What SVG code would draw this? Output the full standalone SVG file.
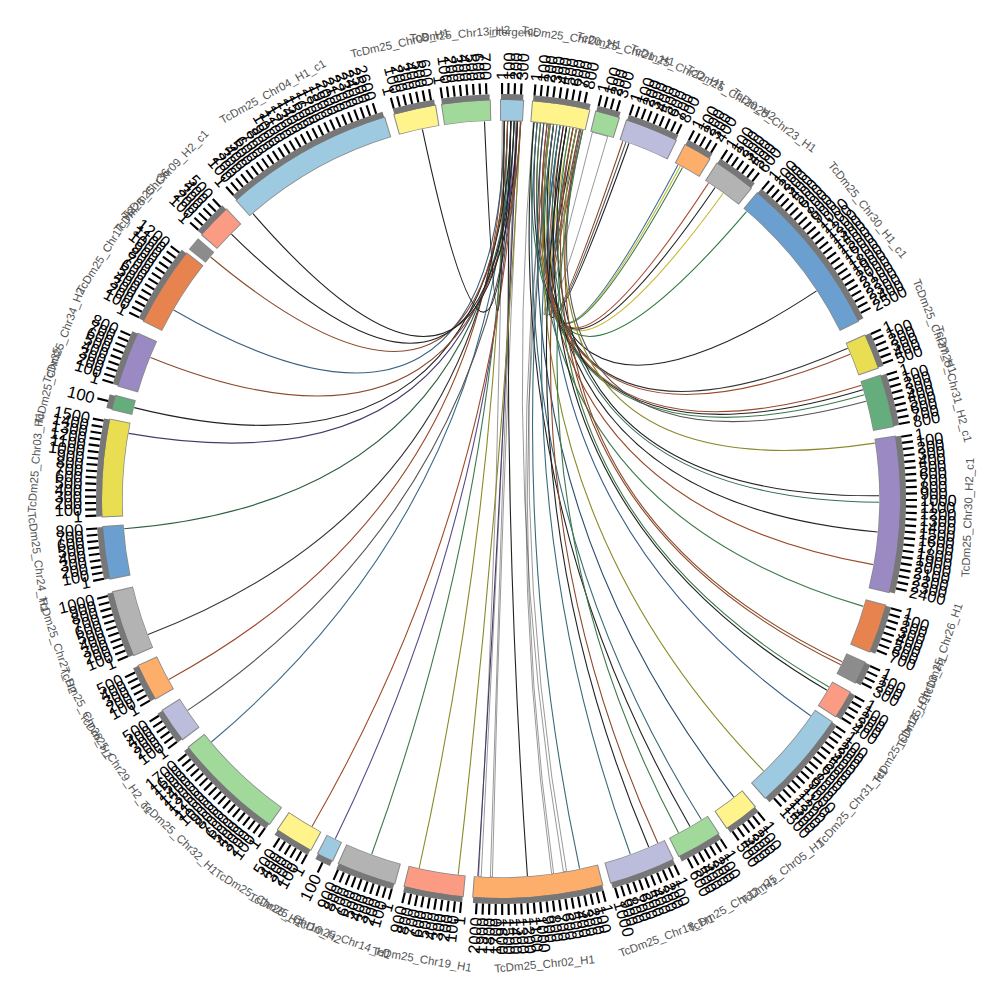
<svg xmlns="http://www.w3.org/2000/svg" width="1000" height="1000" viewBox="0 0 1000 1000">
<style>
.bo{fill:none;stroke:#8a8a8a;stroke-width:21.5}
.bk{fill:none;stroke-width:20}
.gb{fill:none;stroke:#777;stroke-width:6}
.tk{fill:none;stroke:#000;stroke-width:11}
.tl text{font-family:"Liberation Sans",Arial,sans-serif;font-size:16.5px;dominant-baseline:central;fill:#000}
.L text{text-anchor:end}
.nm{font-family:"Liberation Sans",Arial,sans-serif;font-size:11.5px;fill:#555;text-anchor:middle;dominant-baseline:central}
#links path{fill:none;stroke-width:1.1}
#links path.rb{stroke:#333;stroke-width:.5}
</style>
<rect width="1000" height="1000" fill="#fff"/>
<g transform="translate(501,499)">
<g id="links">
<path class="rb" fill="#d6df7e" d="M1.3,-378Q0,0 -22.4,377.3A378,378 0 0 0 -19.8,377.5Q0,0 15.2,-377.7A378,378 0 0 0 1.3,-378Z"/>
<path class="rb" fill="#a1d99b" d="M15.2,-377.7Q0,0 -10.6,377.9A378,378 0 0 0 -8.6,377.9Q0,0 19.1,-377.5A378,378 0 0 0 15.2,-377.7Z"/>
<path class="rb" fill="#9ecae1" d="M32.3,-376.6Q0,0 62.4,372.8A378,378 0 0 0 65.6,372.3Q0,0 48,-374.9A378,378 0 0 0 32.3,-376.6Z"/>
<path class="rb" fill="#a1d99b" d="M48,-374.9Q0,0 50.6,374.6A378,378 0 0 0 52.6,374.3Q0,0 52.6,-374.3A378,378 0 0 0 48,-374.9Z"/>
<path class="rb" fill="#fff48c" d="M76,-370.3Q0,0 106.7,-362.6A378,378 0 0 0 91.4,-366.8Q0,0 81.2,-369.2A378,378 0 0 0 76,-370.3Z"/>
<path stroke="#8b4a2b" d="M81.8,-369Q0,0 121.8,-357.8"/>
<path stroke="#555" d="M78.6,-369.7Q0,0 124.9,-356.8"/>
<path stroke="#222" d="M75.4,-370.4Q0,0 128,-355.7"/>
<path stroke="#3a6f9a" d="M72.1,-371.1Q0,0 176.9,-334.1"/>
<path stroke="#c8b830" d="M68.9,-371.7Q0,0 179.2,-332.8"/>
<path stroke="#3d7a4a" d="M65.6,-372.3Q0,0 181.5,-331.5"/>
<path stroke="#b0503a" d="M62.4,-372.8Q0,0 207.5,-315.9"/>
<path stroke="#222" d="M59.1,-373.3Q0,0 214.1,-311.5"/>
<path stroke="#c8b830" d="M55.9,-373.8Q0,0 222.2,-305.8"/>
<path stroke="#2e7a3e" d="M52.6,-374.3Q0,0 245.5,-287.4"/>
<path stroke="#222" d="M49.3,-374.8Q0,0 315.6,-208.1"/>
<path stroke="#333" d="M46.1,-375.2Q0,0 346.7,-150.7"/>
<path stroke="#9a4a2a" d="M42.8,-375.6Q0,0 349.2,-144.7"/>
<path stroke="#9a4a2a" d="M39.5,-375.9Q0,0 360.5,-113.7"/>
<path stroke="#222" d="M36.2,-376.3Q0,0 361.9,-109.2"/>
<path stroke="#3d7a4a" d="M33,-376.6Q0,0 363.4,-104.2"/>
<path stroke="#555" d="M79.9,-369.5Q0,0 365.1,-97.8"/>
<path stroke="#8a8a2a" d="M75.4,-370.4Q0,0 373.8,-55.9"/>
<path stroke="#222" d="M65.6,-372.3Q0,0 378,-3.3"/>
<path stroke="#3a6a5a" d="M59.1,-373.3Q0,0 378,3.3"/>
<path stroke="#222" d="M52.6,-374.3Q0,0 376.6,33"/>
<path stroke="#9a4a2a" d="M46.1,-375.2Q0,0 372.3,65.6"/>
<path stroke="#3d7a4a" d="M39.5,-375.9Q0,0 362.4,107.4"/>
<path stroke="#8b4a2b" d="M78.6,-369.7Q0,0 341.2,162.7"/>
<path stroke="#8b4a2b" d="M72.1,-371.1Q0,0 339.8,165.7"/>
<path stroke="#3d7a4a" d="M68.9,-371.7Q0,0 328,187.9"/>
<path stroke="#222" d="M62.4,-372.8Q0,0 326,191.3"/>
<path stroke="#3a5f8a" d="M55.9,-373.8Q0,0 309.6,216.8"/>
<path stroke="#8a8a2a" d="M49.3,-374.8Q0,0 262.6,271.9"/>
<path stroke="#2a4a6a" d="M42.8,-375.6Q0,0 232.7,297.9"/>
<path stroke="#3a6a7a" d="M36.2,-376.3Q0,0 200.3,320.5"/>
<path stroke="#222" d="M33,-376.6Q0,0 189,327.4"/>
<path stroke="#3d7a4a" d="M81.8,-369Q0,0 177.5,333.7"/>
<path stroke="#8b4a2b" d="M72.1,-371.1Q0,0 156.8,344"/>
<path stroke="#222" d="M65.6,-372.3Q0,0 147.7,348"/>
<path stroke="#3a6a7a" d="M59.1,-373.3Q0,0 129.3,355.2"/>
<path stroke="#3a6a7a" d="M52.6,-374.3Q0,0 78.6,369.7"/>
<path stroke="#222" d="M9.9,-377.9Q0,0 26.4,377.1"/>
<path stroke="#4a3a6a" d="M16.5,-377.6Q0,0 -23.1,377.3"/>
<path stroke="#8a8a2a" d="M19.8,-377.5Q0,0 -42.8,375.6"/>
<path stroke="#8a8a2a" d="M3.3,-378Q0,0 -81.8,369"/>
<path stroke="#3d7a4a" d="M6.6,-377.9Q0,0 -129.3,355.2"/>
<path stroke="#5a4a8a" d="M13.2,-377.8Q0,0 -165.7,339.8"/>
<path stroke="#a04a2a" d="M16.5,-377.6Q0,0 -189,327.4"/>
<path stroke="#3a6a8a" d="M9.9,-377.9Q0,0 -289.6,243"/>
<path stroke="#555" d="M19.8,-377.5Q0,0 -313.4,211.4"/>
<path stroke="#9a4a2a" d="M3.3,-378Q0,0 -332.2,180.4"/>
<path stroke="#333" d="M6.6,-377.9Q0,0 -352.9,135.5"/>
<path stroke="#2f5f3f" d="M13.2,-377.8Q0,0 -376.8,29.7"/>
<path stroke="#4a3a6a" d="M16.5,-377.6Q0,0 -372.3,-65.6"/>
<path stroke="#222" d="M9.9,-377.9Q0,0 -366.8,-91.4"/>
<path stroke="#8b4a2b" d="M19.8,-377.5Q0,0 -350.5,-141.6"/>
<path stroke="#3a5f7f" d="M3.3,-378Q0,0 -327.4,-189"/>
<path stroke="#8b4a2b" d="M6.6,-377.9Q0,0 -290.4,-242"/>
<path stroke="#222" d="M13.2,-377.8Q0,0 -269.6,-264.9"/>
<path stroke="#222" d="M16.5,-377.6Q0,0 -248,-285.3"/>
<path stroke="#222" d="M9.9,-377.9Q0,0 -78.6,-369.7"/>
<path stroke="#222" d="M3.3,-378Q0,0 -16.5,-377.6"/>
</g>

<g id="b1"><circle class="bo" pathLength="360" r="389" stroke-dasharray="3.5 400" transform="rotate(-90.15)"/><circle class="bk" pathLength="360" r="389" stroke="#9ecae1" stroke-dasharray="3.2 400" transform="rotate(-90)"/><circle class="gb" pathLength="360" r="402" stroke-dasharray="3.2 400" transform="rotate(-90)"/><circle class="tk" pathLength="360" r="410.5" stroke-dasharray=".3 .6 .3 .6 .3 .6 .3 400" transform="rotate(-90)"/>
<g class="tl" transform="rotate(-90)"><text x="419" transform="rotate(.15)">1</text><text x="419" transform="rotate(1.05)">100</text><text x="419" transform="rotate(1.95)">200</text><text x="419" transform="rotate(2.85)">300</text></g>
<text class="nm" transform="rotate(1.6)" y="-467">intergenic</text></g>

<g id="b2"><circle class="bo" pathLength="360" r="389" stroke-dasharray="8.5 400" transform="rotate(-85.55)"/><circle class="bk" pathLength="360" r="389" stroke="#fff48c" stroke-dasharray="8.2 400" transform="rotate(-85.4)"/><circle class="gb" pathLength="360" r="402" stroke-dasharray="8.2 400" transform="rotate(-85.4)"/><circle class="tk" pathLength="360" r="410.5" stroke-dasharray=".3 .6 .3 .6 .3 .6 .3 .6 .3 .6 .3 .6 .3 .6 .3 .6 .3 400" transform="rotate(-85.4)"/>
<g class="tl" transform="rotate(-85.4)"><text x="419" transform="rotate(.15)">1</text><text x="419" transform="rotate(1.05)">100</text><text x="419" transform="rotate(1.95)">200</text><text x="419" transform="rotate(2.85)">300</text><text x="419" transform="rotate(3.75)">400</text><text x="419" transform="rotate(4.65)">500</text><text x="419" transform="rotate(5.55)">600</text><text x="419" transform="rotate(6.45)">700</text><text x="419" transform="rotate(7.35)">800</text></g>
<text class="nm" transform="rotate(8.7)" y="-467">TcDm25_Chr20_H1</text></g>

<g id="b3"><circle class="bo" pathLength="360" r="389" stroke-dasharray="3.7 400" transform="rotate(-76.35)"/><circle class="bk" pathLength="360" r="389" stroke="#a1d99b" stroke-dasharray="3.4 400" transform="rotate(-76.2)"/><circle class="gb" pathLength="360" r="402" stroke-dasharray="3.4 400" transform="rotate(-76.2)"/><circle class="tk" pathLength="360" r="410.5" stroke-dasharray=".3 .6 .3 .6 .3 .6 .3 400" transform="rotate(-76.2)"/>
<g class="tl" transform="rotate(-76.2)"><text x="419" transform="rotate(.15)">1</text><text x="419" transform="rotate(1.05)">100</text><text x="419" transform="rotate(1.95)">200</text><text x="419" transform="rotate(2.85)">300</text></g>
<text class="nm" transform="rotate(15.5)" y="-467">TcDm25_Chr21_H1</text></g>

<g id="b4"><circle class="bo" pathLength="360" r="389" stroke-dasharray="7.9 400" transform="rotate(-71.75)"/><circle class="bk" pathLength="360" r="389" stroke="#bcbddc" stroke-dasharray="7.6 400" transform="rotate(-71.6)"/><circle class="gb" pathLength="360" r="402" stroke-dasharray="7.6 400" transform="rotate(-71.6)"/><circle class="tk" pathLength="360" r="410.5" stroke-dasharray=".3 .6 .3 .6 .3 .6 .3 .6 .3 .6 .3 .6 .3 .6 .3 .6 .3 400" transform="rotate(-71.6)"/>
<g class="tl" transform="rotate(-71.6)"><text x="419" transform="rotate(.15)">1</text><text x="419" transform="rotate(1.05)">100</text><text x="419" transform="rotate(1.95)">200</text><text x="419" transform="rotate(2.85)">300</text><text x="419" transform="rotate(3.75)">400</text><text x="419" transform="rotate(4.65)">500</text><text x="419" transform="rotate(5.55)">600</text><text x="419" transform="rotate(6.45)">700</text><text x="419" transform="rotate(7.35)">800</text></g>
<text class="nm" transform="rotate(22.2)" y="-467">TcDm25_Chr22_H1</text></g>

<g id="b5"><circle class="bo" pathLength="360" r="389" stroke-dasharray="4.3 400" transform="rotate(-62.65)"/><circle class="bk" pathLength="360" r="389" stroke="#fdae6b" stroke-dasharray="4 400" transform="rotate(-62.5)"/><circle class="gb" pathLength="360" r="402" stroke-dasharray="4 400" transform="rotate(-62.5)"/><circle class="tk" pathLength="360" r="410.5" stroke-dasharray=".3 .6 .3 .6 .3 .6 .3 .6 .3 400" transform="rotate(-62.5)"/>
<g class="tl" transform="rotate(-62.5)"><text x="419" transform="rotate(.15)">1</text><text x="419" transform="rotate(1.05)">100</text><text x="419" transform="rotate(1.95)">200</text><text x="419" transform="rotate(2.85)">300</text><text x="419" transform="rotate(3.75)">400</text></g>
<text class="nm" transform="rotate(29.5)" y="-467">TcDm25_Chr20_H2</text></g>

<g id="b6"><circle class="bo" pathLength="360" r="389" stroke-dasharray="6.3 400" transform="rotate(-57.35)"/><circle class="bk" pathLength="360" r="389" stroke="#b3b3b3" stroke-dasharray="6 400" transform="rotate(-57.2)"/><circle class="gb" pathLength="360" r="402" stroke-dasharray="6 400" transform="rotate(-57.2)"/><circle class="tk" pathLength="360" r="410.5" stroke-dasharray=".3 .6 .3 .6 .3 .6 .3 .6 .3 .6 .3 .6 .3 400" transform="rotate(-57.2)"/>
<g class="tl" transform="rotate(-57.2)"><text x="419" transform="rotate(.15)">1</text><text x="419" transform="rotate(1.05)">100</text><text x="419" transform="rotate(1.95)">200</text><text x="419" transform="rotate(2.85)">300</text><text x="419" transform="rotate(3.75)">400</text><text x="419" transform="rotate(4.65)">500</text><text x="419" transform="rotate(5.55)">600</text></g>
<text class="nm" transform="rotate(35.8)" y="-467">TcDm25_Chr23_H1</text></g>

<g id="b7"><circle class="bo" pathLength="360" r="389" stroke-dasharray="23.8 400" transform="rotate(-50.15)"/><circle class="bk" pathLength="360" r="389" stroke="#6a9fcf" stroke-dasharray="23.5 400" transform="rotate(-50)"/><circle class="gb" pathLength="360" r="402" stroke-dasharray="23.5 400" transform="rotate(-50)"/><circle class="tk" pathLength="360" r="410.5" stroke-dasharray=".3 .6 .3 .6 .3 .6 .3 .6 .3 .6 .3 .6 .3 .6 .3 .6 .3 .6 .3 .6 .3 .6 .3 .6 .3 .6 .3 .6 .3 .6 .3 .6 .3 .6 .3 .6 .3 .6 .3 .6 .3 .6 .3 .6 .3 .6 .3 .6 .3 .6 .3 400" transform="rotate(-50)"/>
<g class="tl" transform="rotate(-50)"><text x="419" transform="rotate(.15)">1</text><text x="419" transform="rotate(1.05)">100</text><text x="419" transform="rotate(1.95)">200</text><text x="419" transform="rotate(2.85)">300</text><text x="419" transform="rotate(3.75)">400</text><text x="419" transform="rotate(4.65)">500</text><text x="419" transform="rotate(5.55)">600</text><text x="419" transform="rotate(6.45)">700</text><text x="419" transform="rotate(7.35)">800</text><text x="419" transform="rotate(8.25)">900</text><text x="419" transform="rotate(9.15)">1000</text><text x="419" transform="rotate(10.05)">1100</text><text x="419" transform="rotate(10.95)">1200</text><text x="419" transform="rotate(11.85)">1300</text><text x="419" transform="rotate(12.75)">1400</text><text x="419" transform="rotate(13.65)">1500</text><text x="419" transform="rotate(14.55)">1600</text><text x="419" transform="rotate(15.45)">1700</text><text x="419" transform="rotate(16.35)">1800</text><text x="419" transform="rotate(17.25)">1900</text><text x="419" transform="rotate(18.15)">2000</text><text x="419" transform="rotate(19.05)">2100</text><text x="419" transform="rotate(19.95)">2200</text><text x="419" transform="rotate(20.85)">2300</text><text x="419" transform="rotate(21.75)">2400</text><text x="419" transform="rotate(22.65)">2500</text></g>
<text class="nm" transform="rotate(51.75)" y="-467">TcDm25_Chr30_H1_c1</text></g>

<g id="b8"><circle class="bo" pathLength="360" r="389" stroke-dasharray="5.3 400" transform="rotate(-24.35)"/><circle class="bk" pathLength="360" r="389" stroke="#e9dd52" stroke-dasharray="5 400" transform="rotate(-24.2)"/><circle class="gb" pathLength="360" r="402" stroke-dasharray="5 400" transform="rotate(-24.2)"/><circle class="tk" pathLength="360" r="410.5" stroke-dasharray=".3 .6 .3 .6 .3 .6 .3 .6 .3 .6 .3 400" transform="rotate(-24.2)"/>
<g class="tl" transform="rotate(-24.2)"><text x="419" transform="rotate(.15)">1</text><text x="419" transform="rotate(1.05)">100</text><text x="419" transform="rotate(1.95)">200</text><text x="419" transform="rotate(2.85)">300</text><text x="419" transform="rotate(3.75)">400</text><text x="419" transform="rotate(4.65)">500</text></g>
<text class="nm" transform="rotate(68.3)" y="-467">TcDm25_Chr27_H1</text></g>

<g id="b9"><circle class="bo" pathLength="360" r="389" stroke-dasharray="7.8 400" transform="rotate(-18.15)"/><circle class="bk" pathLength="360" r="389" stroke="#66ad7e" stroke-dasharray="7.5 400" transform="rotate(-18)"/><circle class="gb" pathLength="360" r="402" stroke-dasharray="7.5 400" transform="rotate(-18)"/><circle class="tk" pathLength="360" r="410.5" stroke-dasharray=".3 .6 .3 .6 .3 .6 .3 .6 .3 .6 .3 .6 .3 .6 .3 .6 .3 400" transform="rotate(-18)"/>
<g class="tl" transform="rotate(-18)"><text x="419" transform="rotate(.15)">1</text><text x="419" transform="rotate(1.05)">100</text><text x="419" transform="rotate(1.95)">200</text><text x="419" transform="rotate(2.85)">300</text><text x="419" transform="rotate(3.75)">400</text><text x="419" transform="rotate(4.65)">500</text><text x="419" transform="rotate(5.55)">600</text><text x="419" transform="rotate(6.45)">700</text><text x="419" transform="rotate(7.35)">800</text></g>
<text class="nm" transform="rotate(75.75)" y="-467">TcDm25_Chr31_H2_c1</text></g>

<g id="b10"><circle class="bo" pathLength="360" r="389" stroke-dasharray="22.8 400" transform="rotate(-9.15)"/><circle class="bk" pathLength="360" r="389" stroke="#9a89c2" stroke-dasharray="22.5 400" transform="rotate(-9)"/><circle class="gb" pathLength="360" r="402" stroke-dasharray="22.5 400" transform="rotate(-9)"/><circle class="tk" pathLength="360" r="410.5" stroke-dasharray=".3 .6 .3 .6 .3 .6 .3 .6 .3 .6 .3 .6 .3 .6 .3 .6 .3 .6 .3 .6 .3 .6 .3 .6 .3 .6 .3 .6 .3 .6 .3 .6 .3 .6 .3 .6 .3 .6 .3 .6 .3 .6 .3 .6 .3 .6 .3 .6 .3 400" transform="rotate(-9)"/>
<g class="tl" transform="rotate(-9)"><text x="419" transform="rotate(.15)">1</text><text x="419" transform="rotate(1.05)">100</text><text x="419" transform="rotate(1.95)">200</text><text x="419" transform="rotate(2.85)">300</text><text x="419" transform="rotate(3.75)">400</text><text x="419" transform="rotate(4.65)">500</text><text x="419" transform="rotate(5.55)">600</text><text x="419" transform="rotate(6.45)">700</text><text x="419" transform="rotate(7.35)">800</text><text x="419" transform="rotate(8.25)">900</text><text x="419" transform="rotate(9.15)">1000</text><text x="419" transform="rotate(10.05)">1100</text><text x="419" transform="rotate(10.95)">1200</text><text x="419" transform="rotate(11.85)">1300</text><text x="419" transform="rotate(12.75)">1400</text><text x="419" transform="rotate(13.65)">1500</text><text x="419" transform="rotate(14.55)">1600</text><text x="419" transform="rotate(15.45)">1700</text><text x="419" transform="rotate(16.35)">1800</text><text x="419" transform="rotate(17.25)">1900</text><text x="419" transform="rotate(18.15)">2000</text><text x="419" transform="rotate(19.05)">2100</text><text x="419" transform="rotate(19.95)">2200</text><text x="419" transform="rotate(20.85)">2300</text><text x="419" transform="rotate(21.75)">2400</text></g>
<text class="nm" transform="rotate(272.25)" y="467">TcDm25_Chr30_H2_c1</text></g>

<g id="b11"><circle class="bo" pathLength="360" r="389" stroke-dasharray="7.3 400" transform="rotate(15.35)"/><circle class="bk" pathLength="360" r="389" stroke="#e6834f" stroke-dasharray="7 400" transform="rotate(15.5)"/><circle class="gb" pathLength="360" r="402" stroke-dasharray="7 400" transform="rotate(15.5)"/><circle class="tk" pathLength="360" r="410.5" stroke-dasharray=".3 .6 .3 .6 .3 .6 .3 .6 .3 .6 .3 .6 .3 .6 .3 400" transform="rotate(15.5)"/>
<g class="tl" transform="rotate(15.5)"><text x="419" transform="rotate(.15)">1</text><text x="419" transform="rotate(1.05)">100</text><text x="419" transform="rotate(1.95)">200</text><text x="419" transform="rotate(2.85)">300</text><text x="419" transform="rotate(3.75)">400</text><text x="419" transform="rotate(4.65)">500</text><text x="419" transform="rotate(5.55)">600</text><text x="419" transform="rotate(6.45)">700</text></g>
<text class="nm" transform="rotate(289)" y="467">TcDm25_Chr26_H1</text></g>

<g id="b12"><circle class="bo" pathLength="360" r="389" stroke-dasharray="3.5 400" transform="rotate(24.05)"/><circle class="bk" pathLength="360" r="389" stroke="#8c8c8c" stroke-dasharray="3.2 400" transform="rotate(24.2)"/><circle class="gb" pathLength="360" r="402" stroke-dasharray="3.2 400" transform="rotate(24.2)"/><circle class="tk" pathLength="360" r="410.5" stroke-dasharray=".3 .6 .3 .6 .3 .6 .3 400" transform="rotate(24.2)"/>
<g class="tl" transform="rotate(24.2)"><text x="419" transform="rotate(.15)">1</text><text x="419" transform="rotate(1.05)">100</text><text x="419" transform="rotate(1.95)">200</text><text x="419" transform="rotate(2.85)">300</text></g>
<text class="nm" transform="rotate(295.8)" y="467">TcDm25_Chr13_H1</text></g>

<g id="b13"><circle class="bo" pathLength="360" r="389" stroke-dasharray="4.3 400" transform="rotate(28.85)"/><circle class="bk" pathLength="360" r="389" stroke="#fc9b83" stroke-dasharray="4 400" transform="rotate(29)"/><circle class="gb" pathLength="360" r="402" stroke-dasharray="4 400" transform="rotate(29)"/><circle class="tk" pathLength="360" r="410.5" stroke-dasharray=".3 .6 .3 .6 .3 .6 .3 .6 .3 400" transform="rotate(29)"/>
<g class="tl" transform="rotate(29)"><text x="419" transform="rotate(.15)">1</text><text x="419" transform="rotate(1.05)">100</text><text x="419" transform="rotate(1.95)">200</text><text x="419" transform="rotate(2.85)">300</text><text x="419" transform="rotate(3.75)">400</text></g>
<text class="nm" transform="rotate(301)" y="467">TcDm25_Chr16_H1</text></g>

<g id="b14"><circle class="bo" pathLength="360" r="389" stroke-dasharray="14.8 400" transform="rotate(33.85)"/><circle class="bk" pathLength="360" r="389" stroke="#9ecae1" stroke-dasharray="14.5 400" transform="rotate(34)"/><circle class="gb" pathLength="360" r="402" stroke-dasharray="14.5 400" transform="rotate(34)"/><circle class="tk" pathLength="360" r="410.5" stroke-dasharray=".3 .6 .3 .6 .3 .6 .3 .6 .3 .6 .3 .6 .3 .6 .3 .6 .3 .6 .3 .6 .3 .6 .3 .6 .3 .6 .3 .6 .3 .6 .3 400" transform="rotate(34)"/>
<g class="tl" transform="rotate(34)"><text x="419" transform="rotate(.15)">1</text><text x="419" transform="rotate(1.05)">100</text><text x="419" transform="rotate(1.95)">200</text><text x="419" transform="rotate(2.85)">300</text><text x="419" transform="rotate(3.75)">400</text><text x="419" transform="rotate(4.65)">500</text><text x="419" transform="rotate(5.55)">600</text><text x="419" transform="rotate(6.45)">700</text><text x="419" transform="rotate(7.35)">800</text><text x="419" transform="rotate(8.25)">900</text><text x="419" transform="rotate(9.15)">1000</text><text x="419" transform="rotate(10.05)">1100</text><text x="419" transform="rotate(10.95)">1200</text><text x="419" transform="rotate(11.85)">1300</text><text x="419" transform="rotate(12.75)">1400</text><text x="419" transform="rotate(13.65)">1500</text></g>
<text class="nm" transform="rotate(311.25)" y="467">TcDm25_Chr31_H1</text></g>

<g id="b15"><circle class="bo" pathLength="360" r="389" stroke-dasharray="5.3 400" transform="rotate(50.35)"/><circle class="bk" pathLength="360" r="389" stroke="#fff48c" stroke-dasharray="5 400" transform="rotate(50.5)"/><circle class="gb" pathLength="360" r="402" stroke-dasharray="5 400" transform="rotate(50.5)"/><circle class="tk" pathLength="360" r="410.5" stroke-dasharray=".3 .6 .3 .6 .3 .6 .3 .6 .3 .6 .3 400" transform="rotate(50.5)"/>
<g class="tl" transform="rotate(50.5)"><text x="419" transform="rotate(.15)">1</text><text x="419" transform="rotate(1.05)">100</text><text x="419" transform="rotate(1.95)">200</text><text x="419" transform="rotate(2.85)">300</text><text x="419" transform="rotate(3.75)">400</text><text x="419" transform="rotate(4.65)">500</text></g>
<text class="nm" transform="rotate(323)" y="467">TcDm25_Chr05_H1</text></g>

<g id="b16"><circle class="bo" pathLength="360" r="389" stroke-dasharray="6.8 400" transform="rotate(56.85)"/><circle class="bk" pathLength="360" r="389" stroke="#a1d99b" stroke-dasharray="6.5 400" transform="rotate(57)"/><circle class="gb" pathLength="360" r="402" stroke-dasharray="6.5 400" transform="rotate(57)"/><circle class="tk" pathLength="360" r="410.5" stroke-dasharray=".3 .6 .3 .6 .3 .6 .3 .6 .3 .6 .3 .6 .3 400" transform="rotate(57)"/>
<g class="tl" transform="rotate(57)"><text x="419" transform="rotate(.15)">1</text><text x="419" transform="rotate(1.05)">100</text><text x="419" transform="rotate(1.95)">200</text><text x="419" transform="rotate(2.85)">300</text><text x="419" transform="rotate(3.75)">400</text><text x="419" transform="rotate(4.65)">500</text><text x="419" transform="rotate(5.55)">600</text></g>
<text class="nm" transform="rotate(330.25)" y="467">TcDm25_Chr12_H1</text></g>

<g id="b17"><circle class="bo" pathLength="360" r="389" stroke-dasharray="9.8 400" transform="rotate(64.35)"/><circle class="bk" pathLength="360" r="389" stroke="#bcbddc" stroke-dasharray="9.5 400" transform="rotate(64.5)"/><circle class="gb" pathLength="360" r="402" stroke-dasharray="9.5 400" transform="rotate(64.5)"/><circle class="tk" pathLength="360" r="410.5" stroke-dasharray=".3 .6 .3 .6 .3 .6 .3 .6 .3 .6 .3 .6 .3 .6 .3 .6 .3 .6 .3 .6 .3 400" transform="rotate(64.5)"/>
<g class="tl" transform="rotate(64.5)"><text x="419" transform="rotate(.15)">1</text><text x="419" transform="rotate(1.05)">100</text><text x="419" transform="rotate(1.95)">200</text><text x="419" transform="rotate(2.85)">300</text><text x="419" transform="rotate(3.75)">400</text><text x="419" transform="rotate(4.65)">500</text><text x="419" transform="rotate(5.55)">600</text><text x="419" transform="rotate(6.45)">700</text><text x="419" transform="rotate(7.35)">800</text><text x="419" transform="rotate(8.25)">900</text><text x="419" transform="rotate(9.15)">1000</text></g>
<text class="nm" transform="rotate(339.25)" y="467">TcDm25_Chr18_H1</text></g>

<g id="b18"><circle class="bo" pathLength="360" r="389" stroke-dasharray="19 400" transform="rotate(75.15)"/><circle class="bk" pathLength="360" r="389" stroke="#fdae6b" stroke-dasharray="18.7 400" transform="rotate(75.3)"/><circle class="gb" pathLength="360" r="402" stroke-dasharray="18.7 400" transform="rotate(75.3)"/><circle class="tk" pathLength="360" r="410.5" stroke-dasharray=".3 .6 .3 .6 .3 .6 .3 .6 .3 .6 .3 .6 .3 .6 .3 .6 .3 .6 .3 .6 .3 .6 .3 .6 .3 .6 .3 .6 .3 .6 .3 .6 .3 .6 .3 .6 .3 .6 .3 .6 .3 400" transform="rotate(75.3)"/>
<g class="tl" transform="rotate(75.3)"><text x="419" transform="rotate(.15)">1</text><text x="419" transform="rotate(1.05)">100</text><text x="419" transform="rotate(1.95)">200</text><text x="419" transform="rotate(2.85)">300</text><text x="419" transform="rotate(3.75)">400</text><text x="419" transform="rotate(4.65)">500</text><text x="419" transform="rotate(5.55)">600</text><text x="419" transform="rotate(6.45)">700</text><text x="419" transform="rotate(7.35)">800</text><text x="419" transform="rotate(8.25)">900</text><text x="419" transform="rotate(9.15)">1000</text><text x="419" transform="rotate(10.05)">1100</text><text x="419" transform="rotate(10.95)">1200</text><text x="419" transform="rotate(11.85)">1300</text><text x="419" transform="rotate(12.75)">1400</text><text x="419" transform="rotate(13.65)">1500</text><text x="419" transform="rotate(14.55)">1600</text></g>
<g class="tl L" transform="rotate(255.3)"><text x="-419" transform="rotate(15.45)">1700</text><text x="-419" transform="rotate(16.35)">1800</text><text x="-419" transform="rotate(17.25)">1900</text><text x="-419" transform="rotate(18.15)">2000</text></g>
<text class="nm" transform="rotate(354.65)" y="467">TcDm25_Chr02_H1</text></g>

<g id="b19"><circle class="bo" pathLength="360" r="389" stroke-dasharray="8.8 400" transform="rotate(95.35)"/><circle class="bk" pathLength="360" r="389" stroke="#fc9b83" stroke-dasharray="8.5 400" transform="rotate(95.5)"/><circle class="gb" pathLength="360" r="402" stroke-dasharray="8.5 400" transform="rotate(95.5)"/><circle class="tk" pathLength="360" r="410.5" stroke-dasharray=".3 .6 .3 .6 .3 .6 .3 .6 .3 .6 .3 .6 .3 .6 .3 .6 .3 .6 .3 400" transform="rotate(95.5)"/>
<g class="tl L" transform="rotate(275.5)"><text x="-419" transform="rotate(.15)">1</text><text x="-419" transform="rotate(1.05)">100</text><text x="-419" transform="rotate(1.95)">200</text><text x="-419" transform="rotate(2.85)">300</text><text x="-419" transform="rotate(3.75)">400</text><text x="-419" transform="rotate(4.65)">500</text><text x="-419" transform="rotate(5.55)">600</text><text x="-419" transform="rotate(6.45)">700</text><text x="-419" transform="rotate(7.35)">800</text><text x="-419" transform="rotate(8.25)">900</text></g>
<text class="nm" transform="rotate(9.75)" y="467">TcDm25_Chr19_H1</text></g>

<g id="b20"><circle class="bo" pathLength="360" r="389" stroke-dasharray="8.8 400" transform="rotate(105.35)"/><circle class="bk" pathLength="360" r="389" stroke="#b3b3b3" stroke-dasharray="8.5 400" transform="rotate(105.5)"/><circle class="gb" pathLength="360" r="402" stroke-dasharray="8.5 400" transform="rotate(105.5)"/><circle class="tk" pathLength="360" r="410.5" stroke-dasharray=".3 .6 .3 .6 .3 .6 .3 .6 .3 .6 .3 .6 .3 .6 .3 .6 .3 .6 .3 400" transform="rotate(105.5)"/>
<g class="tl L" transform="rotate(285.5)"><text x="-419" transform="rotate(.15)">1</text><text x="-419" transform="rotate(1.05)">100</text><text x="-419" transform="rotate(1.95)">200</text><text x="-419" transform="rotate(2.85)">300</text><text x="-419" transform="rotate(3.75)">400</text><text x="-419" transform="rotate(4.65)">500</text><text x="-419" transform="rotate(5.55)">600</text><text x="-419" transform="rotate(6.45)">700</text><text x="-419" transform="rotate(7.35)">800</text><text x="-419" transform="rotate(8.25)">900</text></g>
<text class="nm" transform="rotate(19.75)" y="467">TcDm25_Chr14_H1</text></g>

<g id="b21"><circle class="bo" pathLength="360" r="389" stroke-dasharray="2.6 400" transform="rotate(114.85)"/><circle class="bk" pathLength="360" r="389" stroke="#9ecae1" stroke-dasharray="2.3 400" transform="rotate(115)"/><circle class="gb" pathLength="360" r="402" stroke-dasharray="2.3 400" transform="rotate(115)"/><circle class="tk" pathLength="360" r="410.5" stroke-dasharray=".3 400" transform="rotate(116)"/>
<g class="tl L" transform="rotate(295)"><text x="-419" transform="rotate(1.15)">100</text></g>
<text class="nm" transform="rotate(26.15)" y="467">TcDm25_Chr10_H2</text></g>

<g id="b22"><circle class="bo" pathLength="360" r="389" stroke-dasharray="5.8 400" transform="rotate(118.35)"/><circle class="bk" pathLength="360" r="389" stroke="#fff48c" stroke-dasharray="5.5 400" transform="rotate(118.5)"/><circle class="gb" pathLength="360" r="402" stroke-dasharray="5.5 400" transform="rotate(118.5)"/><circle class="tk" pathLength="360" r="410.5" stroke-dasharray=".3 .6 .3 .6 .3 .6 .3 .6 .3 .6 .3 400" transform="rotate(118.5)"/>
<g class="tl L" transform="rotate(298.5)"><text x="-419" transform="rotate(.15)">1</text><text x="-419" transform="rotate(1.05)">100</text><text x="-419" transform="rotate(1.95)">200</text><text x="-419" transform="rotate(2.85)">300</text><text x="-419" transform="rotate(3.75)">400</text><text x="-419" transform="rotate(4.65)">500</text></g>
<text class="nm" transform="rotate(31.25)" y="467">TcDm25_Chr26_H2</text></g>

<g id="b23"><circle class="bo" pathLength="360" r="389" stroke-dasharray="16.3 400" transform="rotate(125.35)"/><circle class="bk" pathLength="360" r="389" stroke="#a1d99b" stroke-dasharray="16 400" transform="rotate(125.5)"/><circle class="gb" pathLength="360" r="402" stroke-dasharray="16 400" transform="rotate(125.5)"/><circle class="tk" pathLength="360" r="410.5" stroke-dasharray=".3 .6 .3 .6 .3 .6 .3 .6 .3 .6 .3 .6 .3 .6 .3 .6 .3 .6 .3 .6 .3 .6 .3 .6 .3 .6 .3 .6 .3 .6 .3 .6 .3 .6 .3 400" transform="rotate(125.5)"/>
<g class="tl L" transform="rotate(305.5)"><text x="-419" transform="rotate(.15)">1</text><text x="-419" transform="rotate(1.05)">100</text><text x="-419" transform="rotate(1.95)">200</text><text x="-419" transform="rotate(2.85)">300</text><text x="-419" transform="rotate(3.75)">400</text><text x="-419" transform="rotate(4.65)">500</text><text x="-419" transform="rotate(5.55)">600</text><text x="-419" transform="rotate(6.45)">700</text><text x="-419" transform="rotate(7.35)">800</text><text x="-419" transform="rotate(8.25)">900</text><text x="-419" transform="rotate(9.15)">1000</text><text x="-419" transform="rotate(10.05)">1100</text><text x="-419" transform="rotate(10.95)">1200</text><text x="-419" transform="rotate(11.85)">1300</text><text x="-419" transform="rotate(12.75)">1400</text><text x="-419" transform="rotate(13.65)">1500</text><text x="-419" transform="rotate(14.55)">1600</text><text x="-419" transform="rotate(15.45)">1700</text></g>
<text class="nm" transform="rotate(43.5)" y="467">TcDm25_Chr32_H1</text></g>

<g id="b24"><circle class="bo" pathLength="360" r="389" stroke-dasharray="5.3 400" transform="rotate(142.85)"/><circle class="bk" pathLength="360" r="389" stroke="#bcbddc" stroke-dasharray="5 400" transform="rotate(143)"/><circle class="gb" pathLength="360" r="402" stroke-dasharray="5 400" transform="rotate(143)"/><circle class="tk" pathLength="360" r="410.5" stroke-dasharray=".3 .6 .3 .6 .3 .6 .3 .6 .3 .6 .3 400" transform="rotate(143)"/>
<g class="tl L" transform="rotate(323)"><text x="-419" transform="rotate(.15)">1</text><text x="-419" transform="rotate(1.05)">100</text><text x="-419" transform="rotate(1.95)">200</text><text x="-419" transform="rotate(2.85)">300</text><text x="-419" transform="rotate(3.75)">400</text><text x="-419" transform="rotate(4.65)">500</text></g>
<text class="nm" transform="rotate(55.5)" y="467">TcDm25_Chr29_H2_c1</text></g>

<g id="b25"><circle class="bo" pathLength="360" r="389" stroke-dasharray="5.6 400" transform="rotate(149.85)"/><circle class="bk" pathLength="360" r="389" stroke="#fdae6b" stroke-dasharray="5.3 400" transform="rotate(150)"/><circle class="gb" pathLength="360" r="402" stroke-dasharray="5.3 400" transform="rotate(150)"/><circle class="tk" pathLength="360" r="410.5" stroke-dasharray=".3 .6 .3 .6 .3 .6 .3 .6 .3 .6 .3 400" transform="rotate(150)"/>
<g class="tl L" transform="rotate(330)"><text x="-419" transform="rotate(.15)">1</text><text x="-419" transform="rotate(1.05)">100</text><text x="-419" transform="rotate(1.95)">200</text><text x="-419" transform="rotate(2.85)">300</text><text x="-419" transform="rotate(3.75)">400</text><text x="-419" transform="rotate(4.65)">500</text></g>
<text class="nm" transform="rotate(62.65)" y="467">TcDm25_Chr28_H1</text></g>

<g id="b26"><circle class="bo" pathLength="360" r="389" stroke-dasharray="9.8 400" transform="rotate(156.85)"/><circle class="bk" pathLength="360" r="389" stroke="#b3b3b3" stroke-dasharray="9.5 400" transform="rotate(157)"/><circle class="gb" pathLength="360" r="402" stroke-dasharray="9.5 400" transform="rotate(157)"/><circle class="tk" pathLength="360" r="410.5" stroke-dasharray=".3 .6 .3 .6 .3 .6 .3 .6 .3 .6 .3 .6 .3 .6 .3 .6 .3 .6 .3 .6 .3 400" transform="rotate(157)"/>
<g class="tl L" transform="rotate(337)"><text x="-419" transform="rotate(.15)">1</text><text x="-419" transform="rotate(1.05)">100</text><text x="-419" transform="rotate(1.95)">200</text><text x="-419" transform="rotate(2.85)">300</text><text x="-419" transform="rotate(3.75)">400</text><text x="-419" transform="rotate(4.65)">500</text><text x="-419" transform="rotate(5.55)">600</text><text x="-419" transform="rotate(6.45)">700</text><text x="-419" transform="rotate(7.35)">800</text><text x="-419" transform="rotate(8.25)">900</text><text x="-419" transform="rotate(9.15)">1000</text></g>
<text class="nm" transform="rotate(71.75)" y="467">TcDm25_Chr27_H2</text></g>

<g id="b27"><circle class="bo" pathLength="360" r="389" stroke-dasharray="7.8 400" transform="rotate(168.35)"/><circle class="bk" pathLength="360" r="389" stroke="#6a9fcf" stroke-dasharray="7.5 400" transform="rotate(168.5)"/><circle class="gb" pathLength="360" r="402" stroke-dasharray="7.5 400" transform="rotate(168.5)"/><circle class="tk" pathLength="360" r="410.5" stroke-dasharray=".3 .6 .3 .6 .3 .6 .3 .6 .3 .6 .3 .6 .3 .6 .3 .6 .3 400" transform="rotate(168.5)"/>
<g class="tl L" transform="rotate(348.5)"><text x="-419" transform="rotate(.15)">1</text><text x="-419" transform="rotate(1.05)">100</text><text x="-419" transform="rotate(1.95)">200</text><text x="-419" transform="rotate(2.85)">300</text><text x="-419" transform="rotate(3.75)">400</text><text x="-419" transform="rotate(4.65)">500</text><text x="-419" transform="rotate(5.55)">600</text><text x="-419" transform="rotate(6.45)">700</text><text x="-419" transform="rotate(7.35)">800</text></g>
<text class="nm" transform="rotate(82.25)" y="467">TcDm25_Chr24_H1</text></g>

<g id="b28"><circle class="bo" pathLength="360" r="389" stroke-dasharray="14.3 400" transform="rotate(177.35)"/><circle class="bk" pathLength="360" r="389" stroke="#e9dd52" stroke-dasharray="14 400" transform="rotate(177.5)"/><circle class="gb" pathLength="360" r="402" stroke-dasharray="14 400" transform="rotate(177.5)"/><circle class="tk" pathLength="360" r="410.5" stroke-dasharray=".3 .6 .3 .6 .3 .6 .3 .6 .3 .6 .3 .6 .3 .6 .3 .6 .3 .6 .3 .6 .3 .6 .3 .6 .3 .6 .3 .6 .3 .6 .3 400" transform="rotate(177.5)"/>
<g class="tl L" transform="rotate(357.5)"><text x="-419" transform="rotate(.15)">1</text><text x="-419" transform="rotate(1.05)">100</text><text x="-419" transform="rotate(1.95)">200</text><text x="-419" transform="rotate(2.85)">300</text><text x="-419" transform="rotate(3.75)">400</text><text x="-419" transform="rotate(4.65)">500</text><text x="-419" transform="rotate(5.55)">600</text><text x="-419" transform="rotate(6.45)">700</text><text x="-419" transform="rotate(7.35)">800</text><text x="-419" transform="rotate(8.25)">900</text><text x="-419" transform="rotate(9.15)">1000</text><text x="-419" transform="rotate(10.05)">1100</text><text x="-419" transform="rotate(10.95)">1200</text><text x="-419" transform="rotate(11.85)">1300</text><text x="-419" transform="rotate(12.75)">1400</text><text x="-419" transform="rotate(13.65)">1500</text></g>
<text class="nm" transform="rotate(274.5)" y="-467">TcDm25_Chr03_H1</text></g>

<g id="b29"><circle class="bo" pathLength="360" r="389" stroke-dasharray="2.3 400" transform="rotate(192.85)"/><circle class="bk" pathLength="360" r="389" stroke="#66ad7e" stroke-dasharray="2 400" transform="rotate(193)"/><circle class="gb" pathLength="360" r="402" stroke-dasharray="2 400" transform="rotate(193)"/><circle class="tk" pathLength="360" r="410.5" stroke-dasharray=".3 400" transform="rotate(193.85)"/>
<g class="tl L" transform="rotate(373)"><text x="-419" transform="rotate(1)">100</text></g>
<text class="nm" transform="rotate(284)" y="-467">TcDm25_Chr35</text></g>

<g id="b30"><circle class="bo" pathLength="360" r="389" stroke-dasharray="8.3 400" transform="rotate(196.35)"/><circle class="bk" pathLength="360" r="389" stroke="#9a89c2" stroke-dasharray="8 400" transform="rotate(196.5)"/><circle class="gb" pathLength="360" r="402" stroke-dasharray="8 400" transform="rotate(196.5)"/><circle class="tk" pathLength="360" r="410.5" stroke-dasharray=".3 .6 .3 .6 .3 .6 .3 .6 .3 .6 .3 .6 .3 .6 .3 .6 .3 400" transform="rotate(196.5)"/>
<g class="tl L" transform="rotate(376.5)"><text x="-419" transform="rotate(.15)">1</text><text x="-419" transform="rotate(1.05)">100</text><text x="-419" transform="rotate(1.95)">200</text><text x="-419" transform="rotate(2.85)">300</text><text x="-419" transform="rotate(3.75)">400</text><text x="-419" transform="rotate(4.65)">500</text><text x="-419" transform="rotate(5.55)">600</text><text x="-419" transform="rotate(6.45)">700</text><text x="-419" transform="rotate(7.35)">800</text></g>
<text class="nm" transform="rotate(290.5)" y="-467">TcDm25_Chr34_H2</text></g>

<g id="b31"><circle class="bo" pathLength="360" r="389" stroke-dasharray="11.8 400" transform="rotate(206.35)"/><circle class="bk" pathLength="360" r="389" stroke="#e6834f" stroke-dasharray="11.5 400" transform="rotate(206.5)"/><circle class="gb" pathLength="360" r="402" stroke-dasharray="11.5 400" transform="rotate(206.5)"/><circle class="tk" pathLength="360" r="410.5" stroke-dasharray=".3 .6 .3 .6 .3 .6 .3 .6 .3 .6 .3 .6 .3 .6 .3 .6 .3 .6 .3 .6 .3 .6 .3 .6 .3 400" transform="rotate(206.5)"/>
<g class="tl L" transform="rotate(386.5)"><text x="-419" transform="rotate(.15)">1</text><text x="-419" transform="rotate(1.05)">100</text><text x="-419" transform="rotate(1.95)">200</text><text x="-419" transform="rotate(2.85)">300</text><text x="-419" transform="rotate(3.75)">400</text><text x="-419" transform="rotate(4.65)">500</text><text x="-419" transform="rotate(5.55)">600</text><text x="-419" transform="rotate(6.45)">700</text><text x="-419" transform="rotate(7.35)">800</text><text x="-419" transform="rotate(8.25)">900</text><text x="-419" transform="rotate(9.15)">1000</text><text x="-419" transform="rotate(10.05)">1100</text><text x="-419" transform="rotate(10.95)">1200</text></g>
<text class="nm" transform="rotate(302.25)" y="-467">TcDm25_Chr17_H2</text></g>

<g id="b32"><circle class="bo" pathLength="360" r="389" stroke-dasharray="2.1 400" transform="rotate(218.65)"/><circle class="bk" pathLength="360" r="389" stroke="#8c8c8c" stroke-dasharray="1.8 400" transform="rotate(218.8)"/>
<text class="nm" transform="rotate(309.7)" y="-467">TcDm25_Chr36</text></g>

<g id="b33"><circle class="bo" pathLength="360" r="389" stroke-dasharray="5.3 400" transform="rotate(221.35)"/><circle class="bk" pathLength="360" r="389" stroke="#fc9b83" stroke-dasharray="5 400" transform="rotate(221.5)"/><circle class="gb" pathLength="360" r="402" stroke-dasharray="5 400" transform="rotate(221.5)"/><circle class="tk" pathLength="360" r="410.5" stroke-dasharray=".3 .6 .3 .6 .3 .6 .3 .6 .3 .6 .3 400" transform="rotate(221.5)"/>
<g class="tl L" transform="rotate(401.5)"><text x="-419" transform="rotate(.15)">1</text><text x="-419" transform="rotate(1.05)">100</text><text x="-419" transform="rotate(1.95)">200</text><text x="-419" transform="rotate(2.85)">300</text><text x="-419" transform="rotate(3.75)">400</text><text x="-419" transform="rotate(4.65)">500</text></g>
<text class="nm" transform="rotate(314)" y="-467">TcDm25_Chr09_H2_c1</text></g>

<g id="b34"><circle class="bo" pathLength="360" r="389" stroke-dasharray="24.8 400" transform="rotate(228.35)"/><circle class="bk" pathLength="360" r="389" stroke="#9ecae1" stroke-dasharray="24.5 400" transform="rotate(228.5)"/><circle class="gb" pathLength="360" r="402" stroke-dasharray="24.5 400" transform="rotate(228.5)"/><circle class="tk" pathLength="360" r="410.5" stroke-dasharray=".3 .6 .3 .6 .3 .6 .3 .6 .3 .6 .3 .6 .3 .6 .3 .6 .3 .6 .3 .6 .3 .6 .3 .6 .3 .6 .3 .6 .3 .6 .3 .6 .3 .6 .3 .6 .3 .6 .3 .6 .3 .6 .3 .6 .3 .6 .3 .6 .3 .6 .3 .6 .3 400" transform="rotate(228.5)"/>
<g class="tl L" transform="rotate(408.5)"><text x="-419" transform="rotate(.15)">1</text><text x="-419" transform="rotate(1.05)">100</text><text x="-419" transform="rotate(1.95)">200</text><text x="-419" transform="rotate(2.85)">300</text><text x="-419" transform="rotate(3.75)">400</text><text x="-419" transform="rotate(4.65)">500</text><text x="-419" transform="rotate(5.55)">600</text><text x="-419" transform="rotate(6.45)">700</text><text x="-419" transform="rotate(7.35)">800</text><text x="-419" transform="rotate(8.25)">900</text><text x="-419" transform="rotate(9.15)">1000</text><text x="-419" transform="rotate(10.05)">1100</text><text x="-419" transform="rotate(10.95)">1200</text><text x="-419" transform="rotate(11.85)">1300</text><text x="-419" transform="rotate(12.75)">1400</text><text x="-419" transform="rotate(13.65)">1500</text><text x="-419" transform="rotate(14.55)">1600</text><text x="-419" transform="rotate(15.45)">1700</text><text x="-419" transform="rotate(16.35)">1800</text><text x="-419" transform="rotate(17.25)">1900</text><text x="-419" transform="rotate(18.15)">2000</text><text x="-419" transform="rotate(19.05)">2100</text><text x="-419" transform="rotate(19.95)">2200</text><text x="-419" transform="rotate(20.85)">2300</text><text x="-419" transform="rotate(21.75)">2400</text><text x="-419" transform="rotate(22.65)">2500</text><text x="-419" transform="rotate(23.55)">2600</text></g>
<text class="nm" transform="rotate(330.75)" y="-467">TcDm25_Chr04_H1_c1</text></g>

<g id="b35"><circle class="bo" pathLength="360" r="389" stroke-dasharray="6.3 400" transform="rotate(254.35)"/><circle class="bk" pathLength="360" r="389" stroke="#fff48c" stroke-dasharray="6 400" transform="rotate(254.5)"/><circle class="gb" pathLength="360" r="402" stroke-dasharray="6 400" transform="rotate(254.5)"/><circle class="tk" pathLength="360" r="410.5" stroke-dasharray=".3 .6 .3 .6 .3 .6 .3 .6 .3 .6 .3 .6 .3 400" transform="rotate(254.5)"/>
<g class="tl L" transform="rotate(434.5)"><text x="-419" transform="rotate(.15)">1</text><text x="-419" transform="rotate(1.05)">100</text><text x="-419" transform="rotate(1.95)">200</text><text x="-419" transform="rotate(2.85)">300</text><text x="-419" transform="rotate(3.75)">400</text><text x="-419" transform="rotate(4.65)">500</text><text x="-419" transform="rotate(5.55)">600</text></g>
<text class="nm" transform="rotate(347.5)" y="-467">TcDm25_Chr08_H1</text></g>

<g id="b36"><circle class="bo" pathLength="360" r="389" stroke-dasharray="7.2 400" transform="rotate(261.35)"/><circle class="bk" pathLength="360" r="389" stroke="#a1d99b" stroke-dasharray="6.9 400" transform="rotate(261.5)"/><circle class="gb" pathLength="360" r="402" stroke-dasharray="6.9 400" transform="rotate(261.5)"/><circle class="tk" pathLength="360" r="410.5" stroke-dasharray=".3 .6 .3 .6 .3 .6 .3 .6 .3 .6 .3 .6 .3 .6 .3 400" transform="rotate(261.5)"/>
<g class="tl L" transform="rotate(441.5)"><text x="-419" transform="rotate(.15)">1</text><text x="-419" transform="rotate(1.05)">100</text><text x="-419" transform="rotate(1.95)">200</text><text x="-419" transform="rotate(2.85)">300</text><text x="-419" transform="rotate(3.75)">400</text><text x="-419" transform="rotate(4.65)">500</text><text x="-419" transform="rotate(5.55)">600</text><text x="-419" transform="rotate(6.45)">700</text></g>
<text class="nm" transform="rotate(354.95)" y="-467">TcDm25_Chr13_H2</text></g>
</g>
</svg>
